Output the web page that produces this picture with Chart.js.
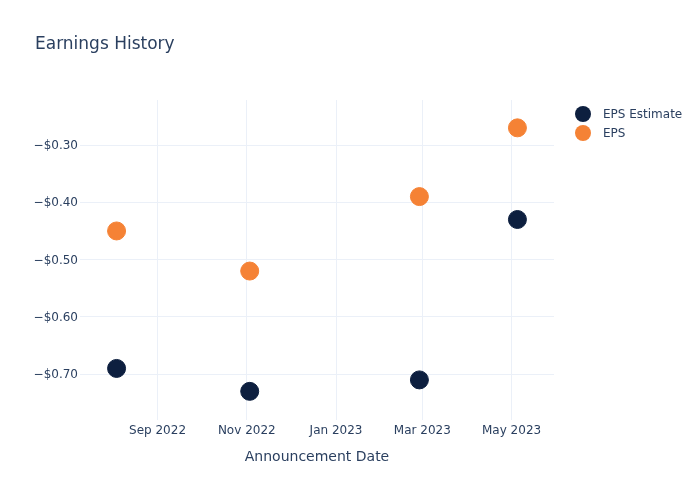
<!DOCTYPE html>
<html>
<head>
<meta charset="utf-8">
<script src="https://cdn.jsdelivr.net/npm/chart.js@4"></script>
<style>
  html, body { margin: 0; padding: 0; background: #fff; }
  #wrap { width: 700px; height: 500px; }
</style>
</head>
<body>
<div id="wrap"><canvas id="myChart" width="700" height="500"></canvas></div>
<script>
// data
const dates = ['2022-08-04', '2022-11-03', '2023-02-27', '2023-05-05'];
const epsEstimate = [-0.69, -0.73, -0.71, -0.43];
const eps = [-0.45, -0.52, -0.39, -0.27];

const xTickDates = ['2022-09-01', '2022-11-01', '2023-01-01', '2023-03-01', '2023-05-01'];
const xTickLabels = ['Sep 2022', 'Nov 2022', 'Jan 2023', 'Mar 2023', 'May 2023'];
const yTicks = [-0.7, -0.6, -0.5, -0.4, -0.3];

const textColor = '#2a3f5f';
const gridColor = '#ebf0f8';
const navy = '#0d1f3f';
const orange = '#f58235';
const font = 'DejaVu Sans';

const ts = d => Date.parse(d + 'T00:00:00Z');

function pts(vals) {
    return vals.map((v, i) => ({ x: ts(dates[i]), y: v }));
}

// title and legend drawn in plotly style
const decor = {
    id: 'decor',
    afterDraw(chart) {
        const ctx = chart.ctx;
        ctx.save();
        ctx.fillStyle = textColor;
        ctx.textBaseline = 'middle';
        ctx.textAlign = 'left';
        ctx.font = '17px "' + font + '"';
        ctx.fillText('Earnings History', 35, 45);
        ctx.font = '12px "' + font + '"';
        chart.data.datasets.forEach((ds, i) => {
            const y = 114 + i * 19;
            ctx.beginPath();
            ctx.arc(583, y, 8, 0, Math.PI * 2);
            ctx.fillStyle = ds.backgroundColor;
            ctx.fill();
            ctx.fillStyle = textColor;
            ctx.fillText(ds.label, 603, y + 1);
        });
        ctx.restore();
    }
};

new Chart(document.getElementById('myChart'), {
    type: 'scatter',
    data: {
        datasets: [
            { label: 'EPS Estimate', data: pts(epsEstimate), backgroundColor: navy, borderColor: navy, pointRadius: 9, pointHoverRadius: 9 },
            { label: 'EPS', data: pts(eps), backgroundColor: orange, borderColor: orange, pointRadius: 9, pointHoverRadius: 9 }
        ]
    },
    options: {
        responsive: false,
        animation: false,
        layout: { padding: { top: 100, right: 146, left: 0, bottom: 0 } },
        plugins: {
            legend: { display: false },
            title: { display: false },
            tooltip: { enabled: false }
        },
        scales: {
            x: {
                type: 'linear',
                min: ts('2022-07-10'),
                max: ts('2023-05-30'),
                afterBuildTicks: s => { s.ticks = xTickDates.map(d => ({ value: ts(d) })); },
                afterFit: s => { s.height = 80; },
                grid: { color: gridColor, drawTicks: false },
                border: { display: false },
                ticks: {
                    color: textColor,
                    font: { family: font, size: 12 },
                    padding: 4,
                    maxRotation: 0,
                    callback: (v, i) => xTickLabels[i]
                },
                title: {
                    display: true,
                    text: 'Announcement Date',
                    color: textColor,
                    font: { family: font, size: 14 },
                    padding: { top: 0, bottom: 34 }
                }
            },
            y: {
                min: -0.78,
                max: -0.2214,
                afterBuildTicks: s => { s.ticks = yTicks.map(v => ({ value: v })); },
                afterFit: s => { s.width = 80; },
                grid: { color: gridColor, drawTicks: false },
                border: { display: false },
                ticks: {
                    color: textColor,
                    font: { family: font, size: 12 },
                    padding: 2,
                    labelOffset: 1,
                    callback: v => '\u2212$' + Math.abs(v).toFixed(2)
                }
            }
        }
    },
    plugins: [decor]
});
</script>
</body>
</html>
